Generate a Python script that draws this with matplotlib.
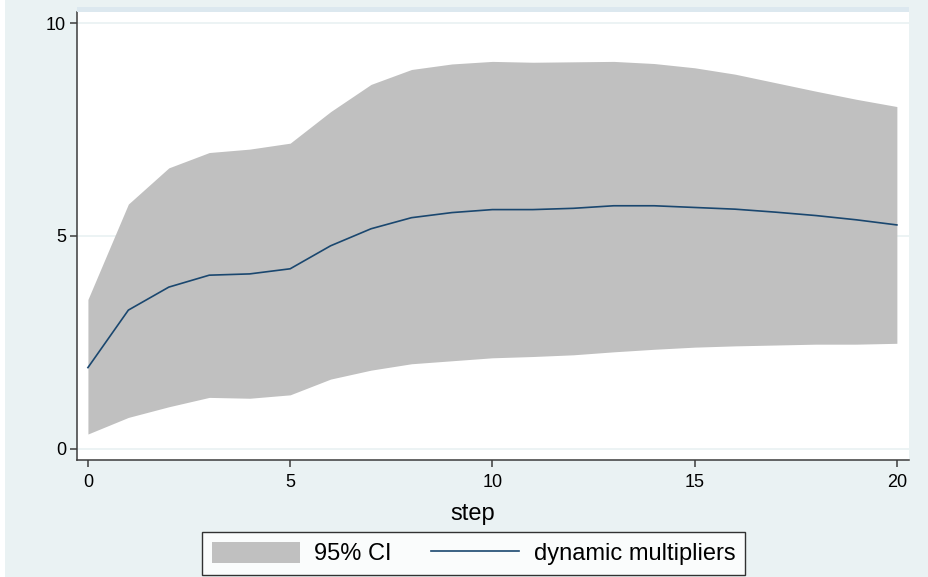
import numpy as np
import matplotlib.pyplot as plt
from matplotlib.patches import Rectangle

# impulse-response style output: dynamic multipliers with 95% CI
step = np.arange(0, 21)
dm = [1.91, 3.26, 3.80, 4.08, 4.11, 4.23, 4.77, 5.17, 5.43, 5.55, 5.62,
      5.62, 5.65, 5.71, 5.71, 5.67, 5.63, 5.56, 5.48, 5.38, 5.26]
ci_lo = [0.35, 0.74, 0.99, 1.21, 1.19, 1.27, 1.64, 1.85, 2.00, 2.07, 2.14,
         2.17, 2.21, 2.28, 2.34, 2.39, 2.42, 2.44, 2.46, 2.46, 2.48]
ci_hi = [3.51, 5.75, 6.60, 6.96, 7.04, 7.18, 7.92, 8.56, 8.91, 9.04, 9.10,
         9.08, 9.09, 9.10, 9.05, 8.95, 8.80, 8.60, 8.40, 8.21, 8.04]
xticks = [0, 5, 10, 15, 20]
yticks = [0, 5, 10]

bg = "#eaf2f3"
plt.rcParams["font.family"] = ["Liberation Sans", "DejaVu Sans"]

W, H = 929, 577
fig = plt.figure(figsize=(W / 100, H / 100), dpi=100, facecolor=bg)

# stray edges of the exported graph window
fig.patches.append(Rectangle((0, 0), 5 / W, 1, transform=fig.transFigure,
                             facecolor="white", edgecolor="none", zorder=0))
fig.patches.append(Rectangle((77 / W, 1 - 12 / H), 832 / W, 5 / H,
                             transform=fig.transFigure, facecolor="#dce8ef",
                             edgecolor="none", zorder=0))

ax = fig.add_axes([77 / W, (H - 460) / H, 832 / W, 448 / H])
ax.set_facecolor("white")

ax.fill_between(step, ci_lo, ci_hi, color="#c0c0c0", linewidth=0,
                label="95% CI", zorder=2)
ax.plot(step, dm, color="#1a476f", linewidth=1.2,
        label="dynamic multipliers", zorder=3)

ax.set_xlim(-0.27, 20.3)
ax.set_ylim(-0.26, 10.26)
ax.set_xticks(xticks)
ax.set_yticks(yticks)
ax.set_axisbelow(True)
ax.yaxis.grid(True, color=bg, linewidth=1.3)

for s in ["top", "right"]:
    ax.spines[s].set_visible(False)
for s in ["left", "bottom"]:
    ax.spines[s].set_color("#3c3c3c")
    ax.spines[s].set_linewidth(1.1)

ax.tick_params(axis="both", direction="out", length=5, width=1.1,
               color="#3c3c3c", labelsize=13, labelcolor="black")
ax.tick_params(axis="y", pad=3)
ax.tick_params(axis="x", pad=5)

ax.set_xlabel("step", fontsize=17)
ax.xaxis.set_label_coords(0.475, -0.095)

leg = fig.legend(loc="center", bbox_to_anchor=(473.5 / W, 23.5 / H), ncol=2,
                 fontsize=17, frameon=True, fancybox=False, handlelength=3.75,
                 handleheight=1.0, handletextpad=0.6, columnspacing=1.65,
                 borderpad=0.4, borderaxespad=0)
leg.get_frame().set_edgecolor("black")
leg.get_frame().set_linewidth(1.0)
leg.get_frame().set_facecolor("white")

fig.savefig("out.png", dpi=100, facecolor=bg)
